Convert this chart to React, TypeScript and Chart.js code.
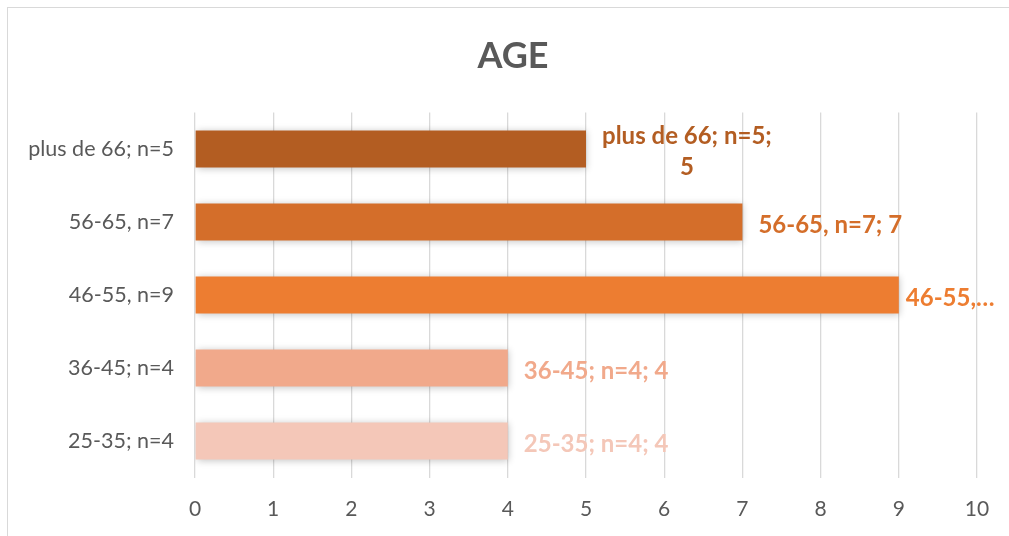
import React, { useEffect, useRef } from "react";
import { Chart, registerables } from "chart.js";

Chart.register(...registerables);

const categories = ["plus de 66; n=5", "56-65, n=7", "46-55, n=9", "36-45; n=4", "25-35; n=4"];
const values = [5, 7, 9, 4, 4];
const barColors = ["#B35D22", "#D46E2A", "#ED7D31", "#F1A98B", "#F4C7B8"];
const dataLabels = [["plus de 66; n=5;", "5"], ["56-65, n=7; 7"], ["46-55,…"], ["36-45; n=4; 4"], ["25-35; n=4; 4"]];
const xTicks = [0, 1, 2, 3, 4, 5, 6, 7, 8, 9, 10];
const chartTitle = "AGE";

const FONT = "Lato, 'Open Sans', sans-serif";

const titlePlugin = {
  id: "customTitle",
  afterDraw(chart: any) {
    const ctx = chart.ctx;
    ctx.save();
    ctx.font = `bold 36px ${FONT}`;
    ctx.fillStyle = "#595959";
    ctx.textAlign = "center";
    ctx.textBaseline = "middle";
    ctx.fillText(chartTitle, 513, 56);
    ctx.restore();
  },
};

const labelPlugin = {
  id: "barLabels",
  afterDatasetsDraw(chart: any) {
    const ctx = chart.ctx;
    const meta = chart.getDatasetMeta(0);
    ctx.save();
    ctx.font = `bold 24px ${FONT}`;
    ctx.textBaseline = "middle";
    meta.data.forEach((bar: any, i: number) => {
      const lines = dataLabels[i];
      const widths = lines.map((l: string) => ctx.measureText(l).width);
      const maxW = Math.max(...widths);
      let x0 = bar.x + 16;
      if (x0 + maxW > chart.chartArea.right + 10) x0 = bar.x + 7;
      const cx = x0 + maxW / 2;
      const lh = 31;
      const startY = bar.y + 3 - ((lines.length - 1) * lh) / 2;
      ctx.fillStyle = barColors[i];
      lines.forEach((l: string, j: number) => {
        ctx.textAlign = "center";
        ctx.fillText(l, cx, startY + j * lh);
      });
    });
    ctx.restore();
  },
};

const shadowPlugin = {
  id: "barShadow",
  beforeDatasetDraw(chart: any) {
    const ctx = chart.ctx;
    ctx.save();
    ctx.shadowColor = "rgba(0,0,0,0.22)";
    ctx.shadowBlur = 7;
    ctx.shadowOffsetX = 1;
    ctx.shadowOffsetY = 1;
  },
  afterDatasetDraw(chart: any) {
    chart.ctx.restore();
  },
};

export default function App() {
  const ref = useRef<HTMLCanvasElement | null>(null);
  useEffect(() => {
    if (!ref.current) return;
    const chart = new Chart(ref.current, {
      type: "bar",
      data: {
        labels: categories,
        datasets: [
          {
            data: values,
            backgroundColor: barColors,
            borderWidth: 0,
            barPercentage: 0.507,
            categoryPercentage: 1,
          },
        ],
      },
      plugins: [shadowPlugin, labelPlugin, titlePlugin],
      options: {
        indexAxis: "y",
        animation: false,
        responsive: false,
        maintainAspectRatio: false,
        layout: { padding: { left: 0, right: 32, top: 112.5, bottom: 0 } },
        plugins: {
          legend: { display: false },
          tooltip: { enabled: false },
          title: { display: false },
        },
        scales: {
          x: {
            min: 0,
            max: 10,
            afterBuildTicks(scale: any) {
              scale.ticks = xTicks.map((v) => ({ value: v }));
            },
            afterFit(scale: any) {
              scale.height = 58.5;
            },
            grid: { color: "#D9D9D9", lineWidth: 1.3, drawTicks: false },
            border: { display: false },
            ticks: { color: "#595959", font: { family: FONT, size: 21 }, padding: 19 },
          },
          y: {
            afterFit(scale: any) {
              scale.width = 195;
            },
            grid: { display: false, drawTicks: false },
            border: { display: false },
            ticks: { color: "#595959", font: { family: FONT, size: 21.5 }, padding: 21 },
          },
        },
      },
    });
    return () => chart.destroy();
  }, []);
  return (
    <div style={{ position: "fixed", left: 0, top: 0, width: 1009, height: 536, background: "#fff", overflow: "hidden" }}>
      <div style={{ position: "absolute", left: 7, top: 7, width: 1020, height: 560, border: "1px solid #D9D9D9" }} />
      <canvas ref={ref} width={1009} height={536} style={{ position: "absolute", left: 0, top: 0 }} />
    </div>
  );
}
